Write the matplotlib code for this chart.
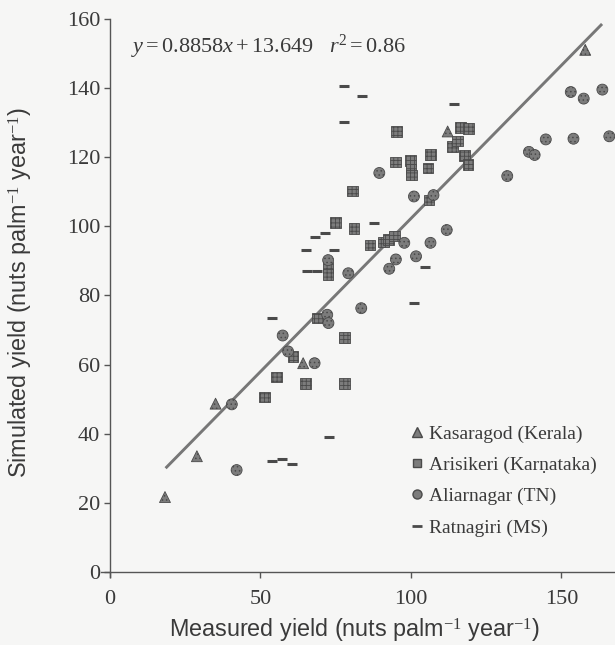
import matplotlib
matplotlib.use("Agg")
import matplotlib.pyplot as plt
from matplotlib.lines import Line2D

# ---- data ----
kas_x = [18.3, 28.9, 35.1, 64.2, 112.2, 157.9]
kas_y = [21.7, 33.5, 48.7, 60.4, 127.4, 151.0]

ari_x = [51.3, 55.3, 65.0, 77.9, 78.0, 60.8, 69.0, 75.0, 81.1, 72.5, 72.5,
         86.4, 90.8, 92.6, 94.5, 80.6, 95.2, 94.9, 99.8, 100.0, 100.1, 106.5,
         105.7, 106.0, 113.8, 115.4, 116.5, 119.2, 117.8, 119.0]
ari_y = [50.6, 56.4, 54.5, 54.6, 67.8, 62.3, 73.5, 101.1, 99.3, 88.0, 86.0,
         94.6, 95.4, 96.2, 97.2, 110.2, 127.4, 118.6, 119.0, 116.6, 114.8, 120.8,
         116.8, 107.6, 123.0, 124.6, 128.6, 128.2, 120.5, 117.8]

ali_x = [42.1, 40.5, 57.4, 59.2, 68.0, 72.2, 72.6, 72.5, 79.2, 83.5, 92.8,
         95.0, 97.8, 101.7, 106.5, 111.9, 101.0, 107.5, 89.5, 132.0, 139.2,
         141.1, 144.8, 154.0, 165.9, 153.1, 157.4, 163.6]
ali_y = [29.5, 48.5, 68.4, 63.8, 60.4, 74.4, 72.0, 90.2, 86.4, 76.3, 87.7,
         90.4, 95.2, 91.3, 95.2, 98.9, 108.6, 109.0, 115.4, 114.5, 121.5,
         120.6, 125.1, 125.3, 126.0, 138.8, 136.9, 139.5]

rat_x = [54.0, 57.1, 60.4, 72.9, 53.9, 68.3, 71.4, 65.2, 74.5, 65.5, 68.8,
         87.6, 104.8, 101.0, 77.8, 83.9, 77.7, 114.4]
rat_y = [32.0, 32.7, 31.3, 39.1, 73.5, 96.8, 97.9, 93.0, 93.0, 87.0, 87.0,
         100.8, 88.3, 77.7, 140.6, 137.7, 130.0, 135.4]

series_labels = ["Kasaragod (Kerala)", "Arisikeri (Karṇataka)",
                 "Aliarnagar (TN)", "Ratnagiri (MS)"]

slope, intercept = 0.8858, 13.649
r2 = 0.86
fit_x = [18.5, 163.5]

x_ticks = [0, 50, 100, 150]
y_ticks = [0, 20, 40, 60, 80, 100, 120, 140, 160]

# ---- style ----
plt.rcParams['font.family'] = ['Liberation Serif', 'DejaVu Serif']
plt.rcParams['mathtext.fontset'] = 'custom'
plt.rcParams['mathtext.rm'] = 'Liberation Serif'
plt.rcParams['mathtext.it'] = 'Liberation Serif:italic'
plt.rcParams['hatch.linewidth'] = 0.6

bg = '#f6f6f5'
ink = '#3a3a3a'
mk_face = '#7c7c7c'
mk_edge = '#4a4a4a'

fig = plt.figure(figsize=(6.15, 6.45), dpi=100, facecolor=bg)
ax = fig.add_axes([0.164, 0.105, 0.837, 0.866])
ax.set_facecolor(bg)

ax.set_xlim(-3, 168)
ax.set_ylim(-1.5, 160)

# fitted line
fit_y = [slope * v + intercept for v in fit_x]
ax.plot(fit_x, fit_y, color='#777777', lw=2.1, solid_capstyle='butt', zorder=2)

common = dict(facecolor=mk_face, edgecolor=mk_edge, linewidths=0.6, zorder=3)
ax.scatter(kas_x, kas_y, marker='^', s=62, hatch='....', **common)
ax.scatter(ari_x, ari_y, marker='s', s=58, hatch='++++', **common)
ax.scatter(ali_x, ali_y, marker='o', s=62, hatch='....', **common)
ax.scatter(rat_x, rat_y, marker='_', s=60, linewidths=2.2, color='#4a4a4a', zorder=3)

# axes styling
for s in ['top', 'right']:
    ax.spines[s].set_visible(False)
ax.spines['left'].set_position(('data', 0))
ax.spines['bottom'].set_position(('data', 0))
for s in ['left', 'bottom']:
    ax.spines[s].set_color('#555555')
    ax.spines[s].set_linewidth(1.0)

ax.set_xticks(x_ticks)
ax.set_yticks(y_ticks)
ax.tick_params(axis='both', colors='#555555', labelcolor=ink, labelsize=16,
               direction='out', length=4, width=1.0)
ax.tick_params(axis='x', pad=9)
ax.tick_params(axis='y', pad=3)

ax.set_xlabel('Measured yield (nuts palm$^{-1}$ year$^{-1}$)',
              family=['Liberation Sans', 'DejaVu Sans'], fontsize=16.8, color=ink)
ax.set_ylabel('Simulated yield (nuts palm$^{-1}$ year$^{-1}$)',
              family=['Liberation Sans', 'DejaVu Sans'], fontsize=16.8, color=ink)
ax.xaxis.set_label_coords(0.492, -0.071)
ax.yaxis.set_label_coords(-0.128, 0.51)

ax.text(0.058, 0.95, r'$y = %.4fx + %.3f\ \ \ r^2 = %.2f$' % (slope, intercept, r2),
        transform=ax.transAxes, fontsize=16, color=ink, ha='left', va='center')

handles = [
    Line2D([], [], marker='^', ls='none', markersize=7, markerfacecolor=mk_face,
           markeredgecolor=mk_edge),
    Line2D([], [], marker='s', ls='none', markersize=6, markerfacecolor=mk_face,
           markeredgecolor=mk_edge),
    Line2D([], [], marker='o', ls='none', markersize=6.5, markerfacecolor=mk_face,
           markeredgecolor=mk_edge),
    Line2D([], [], marker='_', ls='none', markersize=7, markeredgewidth=2,
           color='#4a4a4a'),
]
leg = ax.legend(handles, series_labels, loc='upper left',
                bbox_to_anchor=(0.668, 0.341), bbox_transform=fig.transFigure,
                frameon=False, fontsize=14, handlelength=0.6, handletextpad=0.35,
                labelspacing=0.7, borderpad=0, borderaxespad=0)
for t in leg.get_texts():
    t.set_color(ink)

fig.savefig('out.png', dpi=100, facecolor=bg)
